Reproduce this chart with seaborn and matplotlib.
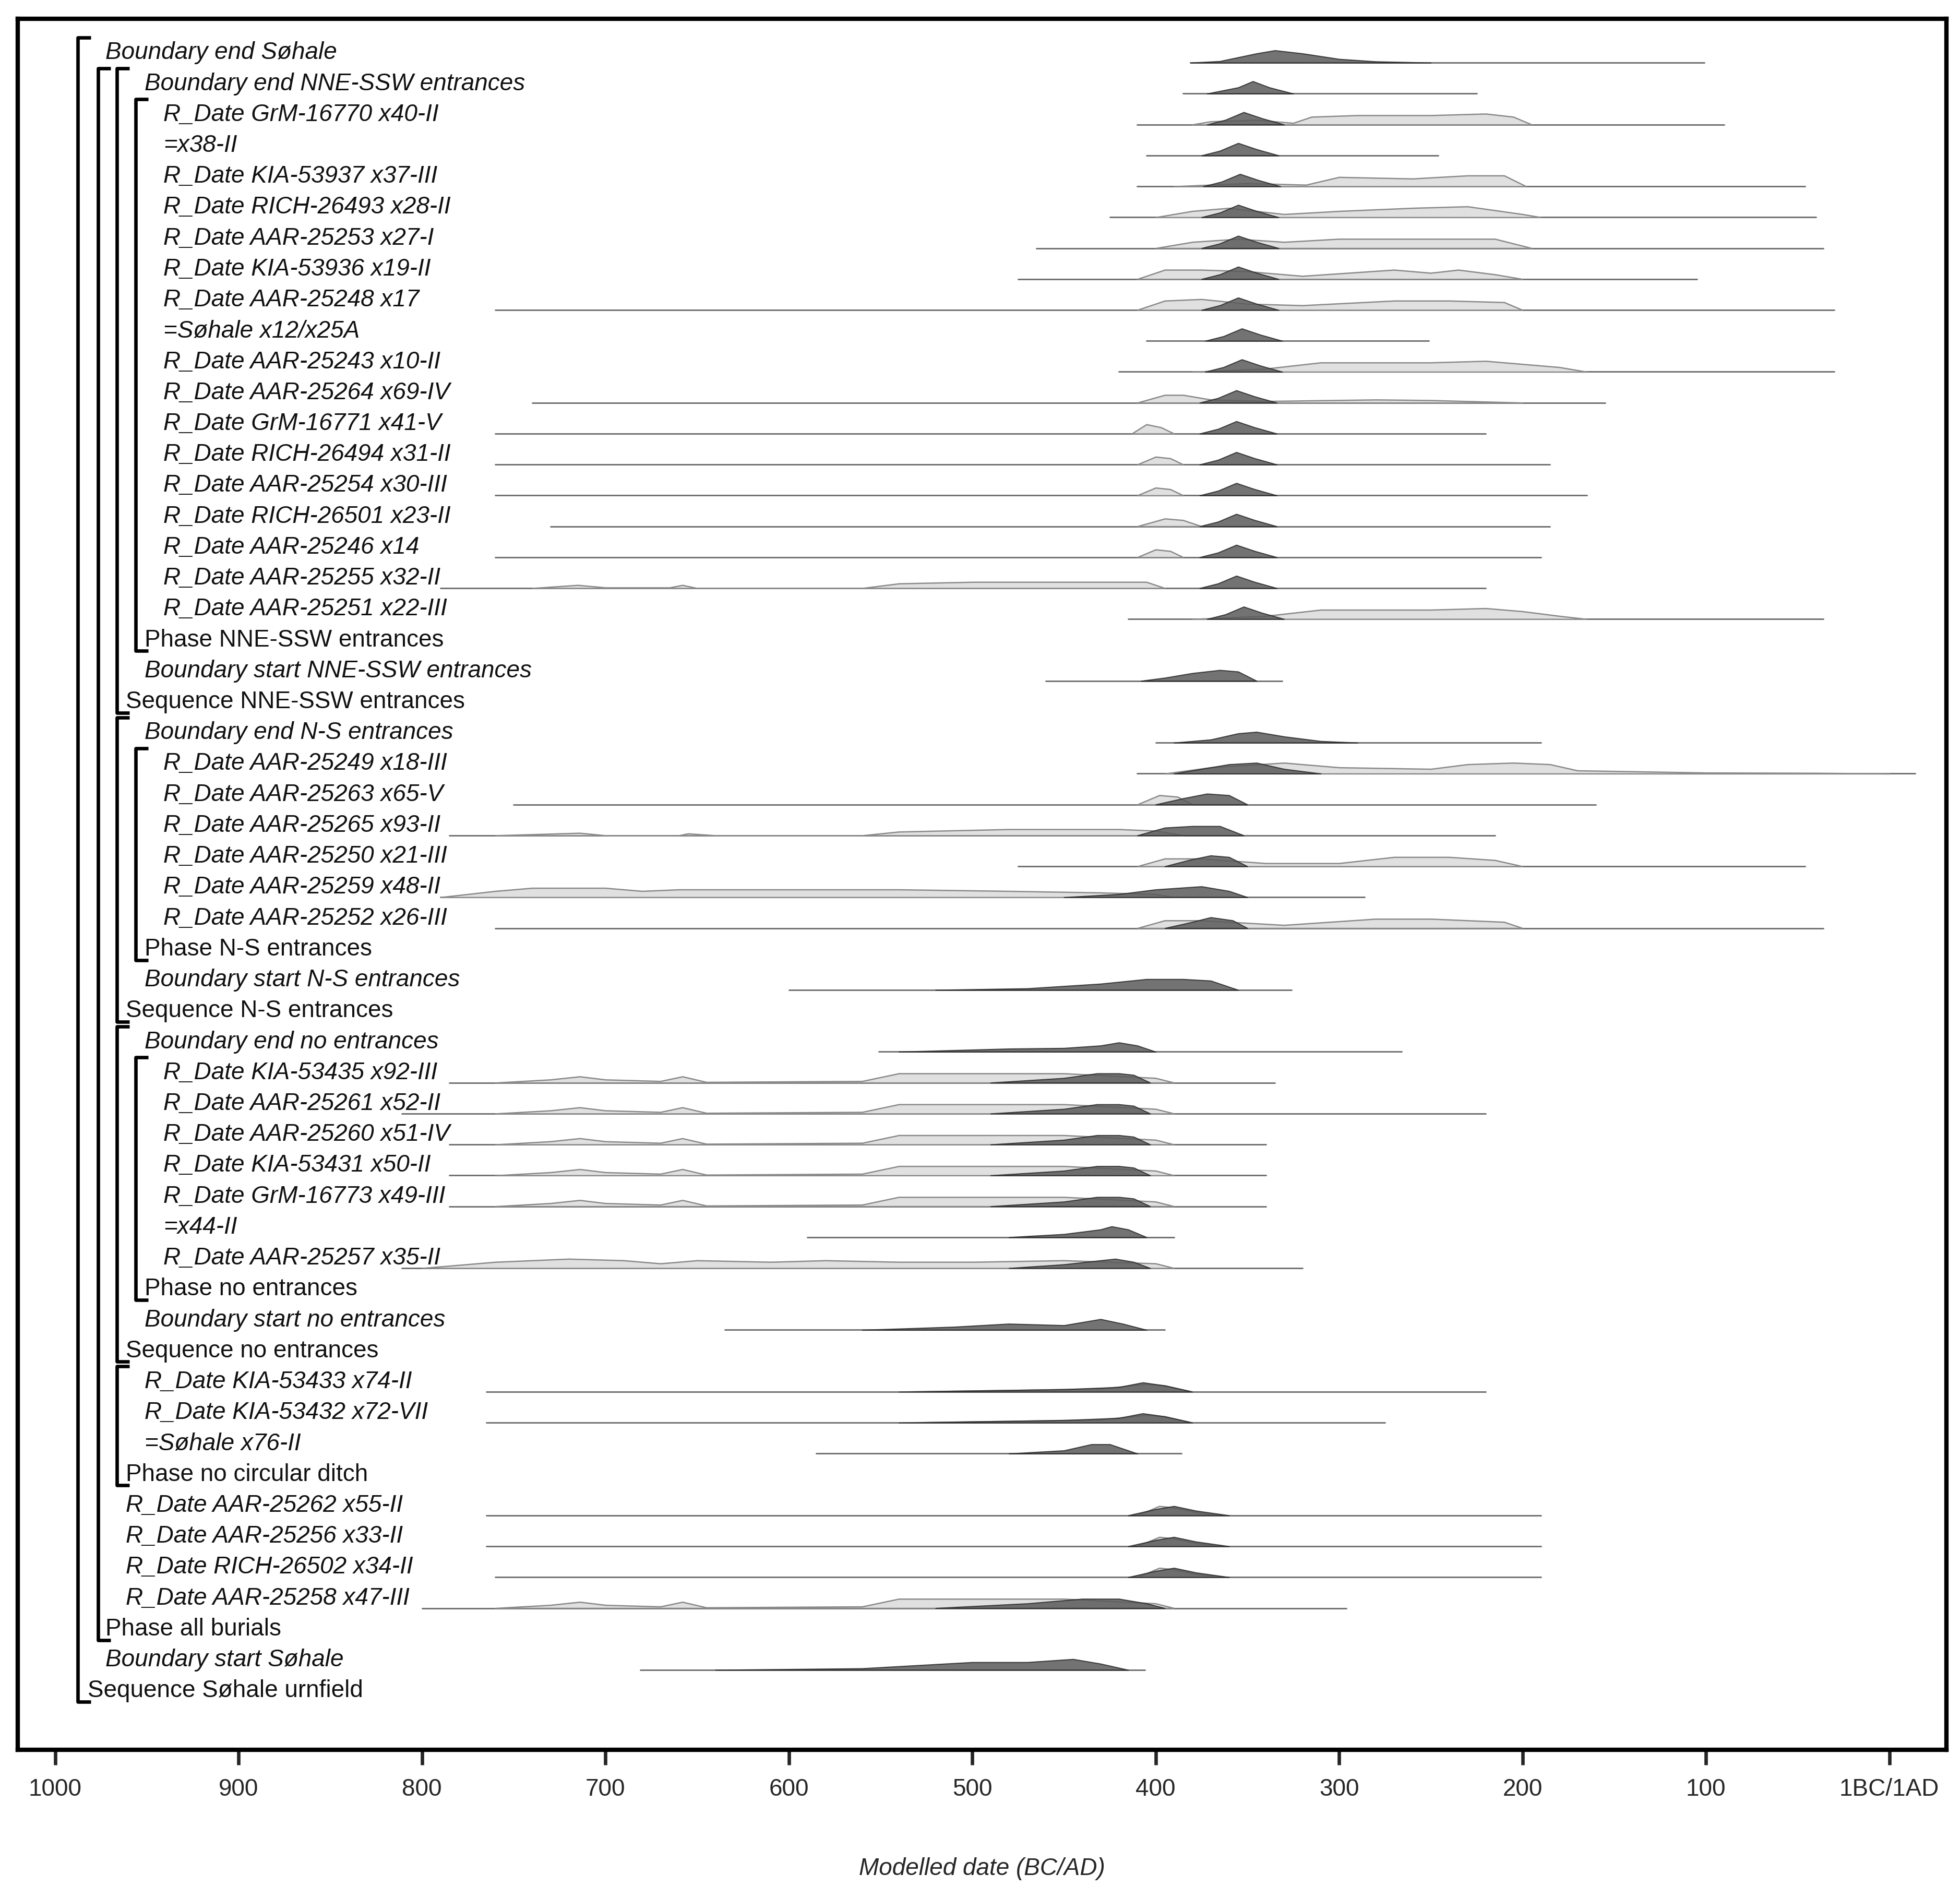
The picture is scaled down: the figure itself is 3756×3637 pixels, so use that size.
import numpy as np
import pandas as pd
import matplotlib
matplotlib.use("Agg")
import matplotlib.pyplot as plt
import seaborn as sns

labels = ["Boundary end Søhale", "Boundary end NNE-SSW entrances",
 "R_Date GrM-16770 x40-II", "=x38-II", "R_Date KIA-53937 x37-III", "R_Date RICH-26493 x28-II",
 "R_Date AAR-25253 x27-I", "R_Date KIA-53936 x19-II", "R_Date AAR-25248 x17", "=Søhale x12/x25A",
 "R_Date AAR-25243 x10-II", "R_Date AAR-25264 x69-IV", "R_Date GrM-16771 x41-V", "R_Date RICH-26494 x31-II",
 "R_Date AAR-25254 x30-III", "R_Date RICH-26501 x23-II", "R_Date AAR-25246 x14", "R_Date AAR-25255 x32-II",
 "R_Date AAR-25251 x22-III", "Phase NNE-SSW entrances", "Boundary start NNE-SSW entrances",
 "Sequence NNE-SSW entrances", "Boundary end N-S entrances",
 "R_Date AAR-25249 x18-III", "R_Date AAR-25263 x65-V", "R_Date AAR-25265 x93-II", "R_Date AAR-25250 x21-III",
 "R_Date AAR-25259 x48-II", "R_Date AAR-25252 x26-III", "Phase N-S entrances", "Boundary start N-S entrances",
 "Sequence N-S entrances", "Boundary end no entrances",
 "R_Date KIA-53435 x92-III", "R_Date AAR-25261 x52-II", "R_Date AAR-25260 x51-IV", "R_Date KIA-53431 x50-II",
 "R_Date GrM-16773 x49-III", "=x44-II", "R_Date AAR-25257 x35-II", "Phase no entrances",
 "Boundary start no entrances", "Sequence no entrances",
 "R_Date KIA-53433 x74-II", "R_Date KIA-53432 x72-VII", "=Søhale x76-II", "Phase no circular ditch",
 "R_Date AAR-25262 x55-II", "R_Date AAR-25256 x33-II", "R_Date RICH-26502 x34-II", "R_Date AAR-25258 x47-III",
 "Phase all burials", "Boundary start Søhale", "Sequence Søhale urnfield"]

# indentation level x position (BC years, axis reversed)
label_x = [972.6, 951.4] + [941.0]*17 + [951.4, 951.4, 961.6, 951.4] + [941.0]*6 + [951.4, 951.4, 961.6, 951.4] \
    + [941.0]*7 + [951.4, 951.4, 961.6] + [951.4]*3 + [961.6] + [961.6]*4 + [972.6, 972.6, 982.2]

# range lines (start BC, end BC); None = no line
range_start = [381,385,410,405,410,425,465,475,760,405,420,740,760,760,760,730,760,790,415,None,460,None,400,
               410,750,785,475,790,760,None,600,None,551,785,811,785,785,785,590,811,None,635,None,
               765,765,585,None,765,765,760,800,None,681,None]
range_end = [101,225,90,246,46,40,36,105,30,251,30,155,220,185,165,185,190,220,36,None,331,None,190,
             -14,160,215,46,286,36,None,326,None,266,335,220,340,340,340,390,320,None,395,None,
             220,275,386,None,190,190,190,296,None,406,None]

pk = lambda c: [(c+20,0),(c+10,.15),(c,.4),(c-10,.2),(c-22,0)]
posterior = {0: [(381,0),(365,.05),(345,.3),(335,.4),(320,.3),(300,.12),(280,.04),(250,0)],
 1: [(372,0),(355,.2),(347,.4),(338,.2),(325,0)],
 20: [(408,0),(395,.1),(380,.25),(365,.35),(355,.3),(345,0)],
 22: [(390,0),(370,.1),(355,.3),(345,.35),(330,.2),(310,.05),(290,0)],
 23: [(390,0),(375,.15),(360,.3),(345,.35),(330,.15),(310,0)],
 24: [(400,0),(385,.2),(372,.35),(360,.3),(350,0)],
 25: [(410,0),(395,.25),(380,.3),(365,.3),(352,0)],
 26: [(395,0),(382,.2),(370,.35),(360,.3),(350,0)],
 27: [(450,0),(420,.1),(400,.25),(375,.35),(360,.2),(350,0)],
 28: [(395,0),(380,.2),(370,.35),(358,.25),(350,0)],
 30: [(520,0),(470,.05),(430,.2),(405,.35),(385,.35),(370,.3),(355,0)],
 32: [(540,0),(480,.1),(450,.12),(430,.2),(420,.3),(410,.2),(400,0)],
 38: [(480,0),(450,.1),(430,.25),(424,.35),(415,.25),(405,0)],
 39: [(480,0),(450,.12),(430,.25),(422,.3),(412,.2),(403,0)],
 41: [(560,0),(510,.1),(480,.2),(450,.15),(430,.35),(418,.2),(405,0)],
 43: [(540,0),(450,.08),(420,.15),(407,.3),(395,.2),(380,0)],
 44: [(540,0),(450,.08),(420,.15),(407,.3),(395,.2),(380,0)],
 45: [(480,0),(450,.1),(435,.3),(425,.3),(410,0)],
 47: [(415,0),(400,.2),(390,.3),(378,.15),(360,0)],
 48: [(415,0),(400,.2),(390,.3),(378,.15),(360,0)],
 49: [(415,0),(400,.2),(390,.3),(378,.15),(360,0)],
 50: [(520,0),(470,.15),(440,.3),(420,.3),(405,.15),(395,0)],
 52: [(640,0),(560,.05),(500,.25),(470,.25),(445,.35),(430,.2),(415,0)]}
peak_centres = {2:352,3:355,4:354,5:355,6:355,7:355,8:355,9:353,10:353,11:356,12:356,13:356,14:356,15:356,
                16:356,17:356,18:352}
for r, c in peak_centres.items():
    posterior[r] = pk(c)
for r in (33, 34, 35, 36, 37):
    posterior[r] = [(490,0),(450,.15),(432,.3),(420,.3),(412,.25),(403,0)]

old = [(760,0),(730,.1),(714,.2),(700,.1),(670,.05),(658,.2),(645,.02),(560,.05),(540,.3),(500,.3),(450,.3),(400,.15),(390,0)]
likelihood = {
 2: [(380,0),(370,.1),(345,.15),(325,.05),(315,.25),(290,.3),(250,.3),(220,.35),(205,.25),(195,0)],
 4: [(390,0),(350,.1),(318,.05),(300,.3),(260,.25),(230,.35),(210,.35),(198,0)],
 5: [(400,0),(380,.2),(360,.3),(330,.1),(300,.2),(260,.3),(230,.35),(200,.1),(190,0)],
 6: [(400,0),(380,.2),(355,.3),(330,.2),(300,.3),(250,.3),(215,.3),(195,0)],
 7: [(410,0),(395,.3),(375,.3),(350,.25),(320,.1),(270,.3),(250,.2),(235,.3),(215,.15),(200,0)],
 8: [(410,0),(395,.3),(375,.35),(350,.2),(320,.15),(270,.3),(240,.3),(210,.25),(200,0)],
 10: [(380,0),(340,.1),(310,.3),(250,.3),(220,.35),(200,.25),(180,.15),(165,0)],
 11: [(410,0),(395,.25),(385,.25),(370,.1),(340,.05),(280,.1),(250,.08),(200,0)],
 12: [(413,0),(405,.3),(397,.2),(390,0)],
 13: [(410,0),(400,.25),(392,.2),(385,0)],
 14: [(410,0),(400,.25),(392,.2),(385,0)],
 15: [(410,0),(395,.25),(385,.2),(375,0)],
 16: [(410,0),(400,.25),(392,.2),(385,0)],
 17: [(740,0),(715,.1),(700,.02),(665,.02),(658,.1),(650,0),(560,0),(540,.15),(500,.2),(450,.2),(405,.2),(395,0)],
 18: [(380,0),(340,.1),(310,.3),(250,.3),(220,.35),(200,.25),(180,.1),(165,0)],
 23: [(395,0),(370,.2),(330,.35),(300,.2),(250,.15),(230,.3),(205,.35),(185,.3),(170,.1),(100,.03),(40,.02),(0,0)],
 24: [(410,0),(398,.3),(388,.25),(380,0)],
 25: [(760,0),(714,.08),(700,0),(660,0),(655,.06),(640,0),(560,0),(540,.12),(480,.2),(420,.2),(400,.15),(385,0)],
 26: [(410,0),(395,.25),(375,.25),(340,.1),(300,.1),(270,.3),(240,.3),(215,.2),(200,0)],
 27: [(790,0),(760,.2),(740,.3),(700,.3),(680,.2),(660,.25),(620,.25),(580,.25),(540,.25),(480,.2),(430,.15),(400,.1),(390,0)],
 28: [(410,0),(395,.25),(375,.25),(330,.1),(280,.3),(250,.3),(210,.2),(200,0)],
 33: old, 34: old, 35: old, 36: old, 37: old, 50: old,
 39: [(800,0),(760,.2),(720,.3),(690,.25),(670,.15),(650,.25),(610,.2),(580,.25),(540,.2),(500,.2),(450,.25),(400,.15),(390,0)],
 43: [(540,0),(480,.05),(430,.1),(405,.25),(395,.2),(380,0)],
 44: [(540,0),(480,.05),(430,.1),(405,.25),(395,.2),(380,0)],
 47: [(410,0),(398,.3),(390,.25),(378,.1),(365,0)],
 48: [(410,0),(398,.3),(390,.25),(378,.1),(365,0)],
 49: [(410,0),(398,.3),(390,.25),(378,.1),(365,0)],
}

# brackets: (first row, last row, x in BC)
brackets = [(0,53,987.7),(1,51,976.7),(1,21,966.4),(2,19,956.2),(22,31,966.4),(23,29,956.2),
            (32,42,966.4),(33,40,956.2),(43,46,966.4)]

tick_vals = [1000,900,800,700,600,500,400,300,200,100,0]
tick_labels = ["1000","900","800","700","600","500","400","300","200","100","1BC/1AD"]

sns.set_style("white")
plt.rcParams['font.family'] = ['Liberation Sans', 'DejaVu Sans']

fig = plt.figure(figsize=(3756/300, 3637/300), dpi=300)
ax = fig.add_axes([14/1560, 1-1392/1510, 1535/1560, 1377/1510])
off = 0.32
n = len(labels)

rows = []
for i in range(n):
    if range_start[i] is not None:
        rows += [(i, range_start[i], i+off), (i, range_end[i], i+off)]
df = pd.DataFrame(rows, columns=["row", "x", "y"])
sns.lineplot(data=df, x="x", y="y", units="row", estimator=None, sort=False,
             color="#707070", lw=0.7, ax=ax, legend=False)

for i, pts in likelihood.items():
    x = [p[0] for p in pts]; h = [p[1] for p in pts]
    ax.fill_between(x, [i+off]*len(x), [i+off-v for v in h], color="#e0e0e0", edgecolor="#8a8a8a", lw=0.6, zorder=3)
for i, pts in posterior.items():
    x = [p[0] for p in pts]; h = [p[1] for p in pts]
    ax.fill_between(x, [i+off]*len(x), [i+off-v for v in h], color="#5a5a5a", edgecolor="#2a2a2a", lw=0.5, alpha=0.85, zorder=4)

italic_rows = [not (l.startswith("Phase") or l.startswith("Sequence")) for l in labels]
for i in range(n):
    ax.text(label_x[i], i, labels[i], ha="left", va="center", fontsize=11,
            style="italic" if italic_rows[i] else "normal", color="#111", zorder=5)

for a, b, x in brackets:
    y0, y1 = a - 0.5, b + 0.35
    ax.plot([x-7, x, x, x-7], [y0, y0, y1, y1], color="black", lw=1.6, zorder=5, solid_capstyle="butt")

ax.set_xlim(1020.5, -31)
ax.set_ylim(n - 1 + 1.9, -1.1)
ax.set_yticks([])
ax.set_xticks(tick_vals)
ax.set_xticklabels(tick_labels, fontsize=11)
ax.tick_params(axis="x", direction="out", length=7, width=1.6, pad=6, bottom=True)
for s in ax.spines.values():
    s.set_linewidth(2)
    s.set_color("black")
ax.set_xlabel("Modelled date (BC/AD)", fontsize=11, style="italic", labelpad=26)
ax.set_ylabel("")
fig.savefig("out.png", dpi=300)
